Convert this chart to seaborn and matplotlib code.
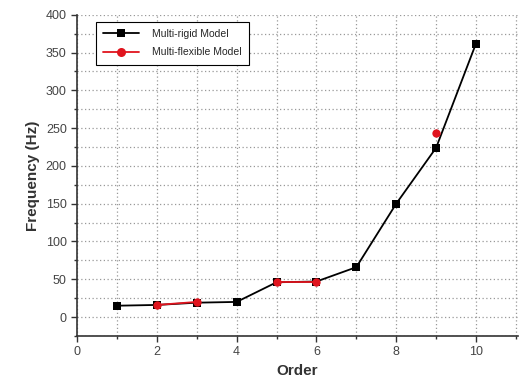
import numpy as np
import pandas as pd
import matplotlib
matplotlib.use('Agg')
import matplotlib.pyplot as plt
import seaborn as sns
from matplotlib.lines import Line2D
from matplotlib.ticker import MultipleLocator

# Datos
order = [1, 2, 3, 4, 5, 6, 7, 8, 9, 10]
rigid = [15, 16, 19, 20, 46, 47, 66, 150, 224, 362]
flexible = [np.nan, 16, 20, np.nan, 47, 47, np.nan, np.nan, 243, np.nan]

df_r = pd.DataFrame({'order': order, 'freq': rigid})
df_f = pd.DataFrame({'order': order, 'freq': flexible})
# segmentos contiguos para no unir puntos a través de huecos
df_f['seg'] = df_f['freq'].isna().cumsum()
df_f = df_f.dropna()

sns.set_style('white')
plt.rcParams['font.family'] = ['Liberation Sans', 'DejaVu Sans']

fig = plt.figure(figsize=(5.21, 3.8), dpi=100)
ax = fig.add_axes([0.148, 0.116, 0.846, 0.845])

ax.grid(True, which='both', linestyle=(0, (1, 2)), color='#999999', linewidth=0.9)
ax.set_axisbelow(True)

sns.lineplot(data=df_r, x='order', y='freq', ax=ax, color='black', marker='s',
             markersize=5.5, markeredgewidth=0, linewidth=1.3, estimator=None, zorder=3)
sns.lineplot(data=df_f, x='order', y='freq', units='seg', estimator=None, ax=ax,
             color='#e0141e', marker='o', markersize=6, markeredgewidth=0,
             linewidth=1.3, zorder=4)

ax.set_xlim(0, 11.05)
ax.set_ylim(-25, 400)
ax.xaxis.set_major_locator(MultipleLocator(2))
ax.xaxis.set_minor_locator(MultipleLocator(1))
ax.yaxis.set_major_locator(MultipleLocator(50))
ax.yaxis.set_minor_locator(MultipleLocator(25))

sns.despine(ax=ax)
for s in ['left', 'bottom']:
    ax.spines[s].set_color('#333333')
    ax.spines[s].set_linewidth(1.2)
ax.tick_params(which='major', direction='out', length=4, width=1, color='#333333',
               labelsize=9, labelcolor='#444444', left=True, bottom=True)
ax.tick_params(which='minor', direction='out', length=2.5, width=1, color='#333333',
               left=True, bottom=True)

ax.set_xlabel('Order', fontsize=11, color='#333333', fontweight='bold')
ax.set_ylabel('Frequency (Hz)', fontsize=11, color='#333333', fontweight='bold')

handles = [
    Line2D([], [], color='black', marker='s', markersize=6, markeredgewidth=0, linewidth=1.3),
    Line2D([], [], color='#e0141e', marker='o', markersize=6.5, markeredgewidth=0, linewidth=1.3),
]
leg = ax.legend(handles, ['Multi-rigid Model', 'Multi-flexible Model'], loc='upper left',
                bbox_to_anchor=(0.03, 0.995), fontsize=7.5, fancybox=False,
                framealpha=1, edgecolor='black', handlelength=3.5, borderpad=0.7,
                labelspacing=0.8, handletextpad=1.2)
leg.get_frame().set_linewidth(0.8)

plt.savefig('out.png', dpi=100)
plt.close()
